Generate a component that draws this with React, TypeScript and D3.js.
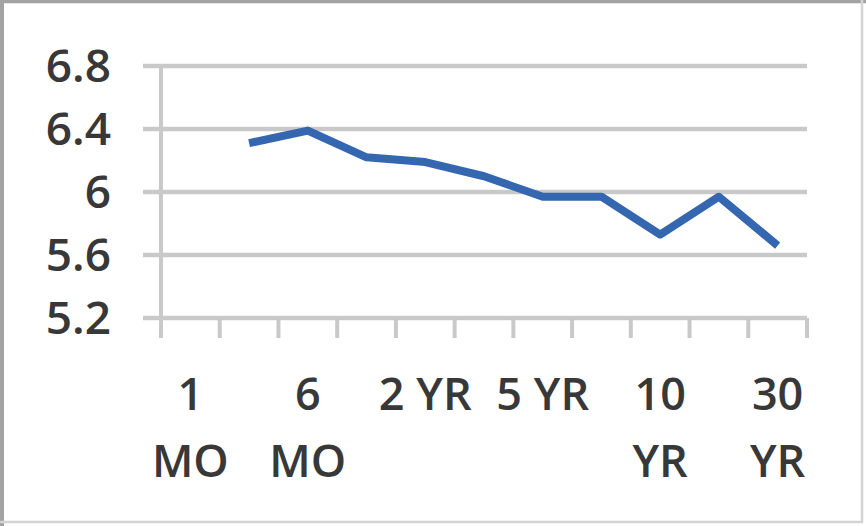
import * as d3 from 'd3';

// Treasury yield curve (one series, first maturity has no value)
const maturities = ['1 MO', '3 MO', '6 MO', '1 YR', '2 YR', '3 YR', '5 YR', '7 YR', '10 YR', '20 YR', '30 YR'];
const yields: (number | null)[] = [null, 6.31, 6.39, 6.22, 6.19, 6.1, 5.97, 5.97, 5.73, 5.97, 5.66];
// only every other category gets a label, wrapped like the original
const tickLabels: string[][] = [['1', 'MO'], [], ['6', 'MO'], [], ['2 YR'], [], ['5 YR'], [], ['10', 'YR'], [], ['30', 'YR']];
const yTicks = [5.2, 5.6, 6.0, 6.4, 6.8];

const W = 866;
const H = 526;
const plot = { left: 161, right: 807, top: 66, bottom: 318 };

export default function App() {
  const x = d3.scaleBand<string>()
    .domain(maturities)
    .range([plot.left, plot.right]);

  const y = d3.scaleLinear()
    .domain([5.2, 6.8])
    .range([plot.bottom, plot.top]);

  const line = d3.line<number | null>()
    .defined(d => d != null)
    .x((_, i) => (x(maturities[i]) as number) + x.bandwidth() / 2)
    .y(d => y(d as number));

  const gridColor = '#c9c9c9';
  const font = "'Open Sans', 'Liberation Sans', sans-serif";
  const textColor = '#383838';

  // tick boundaries between categories
  const boundaries = maturities.map(m => x(m) as number).concat([plot.right]);

  return (
    <svg width={W} height={H} style={{ position: 'absolute', left: 0, top: 0, background: '#fff' }}>
      {/* chart border */}
      <rect x={0} y={0} width={W} height={H} fill="#fff" />
      <line x1={0} y1={1.5} x2={W} y2={1.5} stroke="#a3a3a3" strokeWidth={3.5} />
      <line x1={2} y1={0} x2={2} y2={H} stroke="#a3a3a3" strokeWidth={4} />
      <line x1={862} y1={0} x2={862} y2={523} stroke="#d4d4d4" strokeWidth={2.5} />
      <line x1={0} y1={522} x2={863} y2={522} stroke="#d4d4d4" strokeWidth={2.5} />

      {/* gridlines + y ticks */}
      {yTicks.map(t => (
        <line key={'g' + t} x1={143} x2={plot.right} y1={y(t)} y2={y(t)} stroke={gridColor} strokeWidth={4.5} />
      ))}

      {/* y axis */}
      <line x1={plot.left} x2={plot.left} y1={plot.top - 2} y2={plot.bottom + 20} stroke={gridColor} strokeWidth={4} />

      {/* x ticks */}
      {boundaries.map((b, i) => (
        <line key={'t' + i} x1={b} x2={b} y1={plot.bottom} y2={plot.bottom + 20} stroke={gridColor} strokeWidth={4} />
      ))}

      {/* y labels */}
      {yTicks.map(t => (
        <text key={'yl' + t} x={111} y={y(t) + 16} textAnchor="end" fontFamily={font} fontSize={46} fontWeight={600} fill={textColor}>
          {d3.format('~g')(t)}
        </text>
      ))}

      {/* x labels */}
      {maturities.map((m, i) => (
        <text key={'xl' + m} x={(x(m) as number) + x.bandwidth() / 2} y={410} textAnchor="middle" fontFamily={font} fontSize={45} fontWeight={600} fill={textColor}>
          {tickLabels[i].map((ln, j) => (
            <tspan key={j} x={(x(m) as number) + x.bandwidth() / 2} dy={j === 0 ? 0 : 67}>{ln}</tspan>
          ))}
        </text>
      ))}

      {/* series */}
      <path d={line(yields) || ''} fill="none" stroke="#3566b0" strokeWidth={8} strokeLinejoin="round" />
    </svg>
  );
}
